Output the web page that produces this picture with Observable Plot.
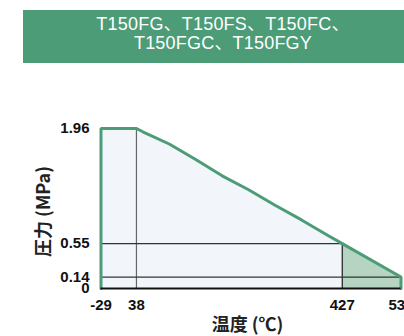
<!DOCTYPE html>
<html>
<head>
<meta charset="utf-8">
<script src="https://cdn.jsdelivr.net/npm/d3@7"></script>
<script src="https://cdn.jsdelivr.net/npm/@observablehq/plot@0.6"></script>
<style>
  html, body { margin: 0; padding: 0; background: #fff; width: 404px; height: 336px; overflow: hidden; }
  #wrap { position: relative; width: 404px; height: 336px; }
  #banner { position: absolute; left: 0; top: 0; }
  #banner text { font-family: "Liberation Sans", "Noto Sans CJK JP", sans-serif; font-size: 18px; fill: #fff; letter-spacing: 0.2px; }
  #chart { position: absolute; left: 0; top: 0; }
</style>
</head>
<body>
<div id="wrap">
  <div id="chart"></div>
  <svg id="banner" width="404" height="70">
    <rect x="23" y="10" width="400" height="53" fill="#4c9c78"></rect>
    <text x="223" y="30" text-anchor="middle">T150FG、T150FS、T150FC、</text>
    <text x="223" y="49" text-anchor="middle">T150FGC、T150FGY</text>
  </svg>
</div>
<script>
const temperatures = [-29, 38, 50, 100, 150, 200, 250, 300, 350, 400, 427, 538];
const pressures = [1.96, 1.96, 1.92, 1.77, 1.58, 1.38, 1.21, 1.02, 0.84, 0.65, 0.55, 0.14];
const xTicks = [-29, 38, 427, 538];
const yTicks = [0, 0.14, 0.55, 1.96];
const xTitle = "温度 (℃)";
const yTitle = "圧力 (MPa)";

const pts = temperatures.map((t, i) => ({t, p: pressures[i]}));
const tMin = temperatures[0], tMax = temperatures[temperatures.length - 1];
const outline = [{t: tMin, p: 0}, ...pts, {t: tMax, p: 0}];
const lowPart = pts.filter(d => d.t <= 427);
const highPart = pts.filter(d => d.t >= 427);
const green = "#4c9c78";

const chart = Plot.plot({
  width: 404,
  height: 336,
  marginLeft: 100.5,
  marginRight: 3.5,
  marginTop: 128,
  marginBottom: 48,
  style: {fontFamily: "Liberation Sans, Arial, sans-serif", fontSize: "15px", fontWeight: "bold", color: "#111", background: "transparent"},
  x: {domain: [tMin, tMax]},
  y: {domain: [0, 1.96]},
  marks: [
    Plot.areaY(lowPart, {x: "t", y: "p", fill: "#f2f6fa"}),
    Plot.areaY(highPart, {x: "t", y: "p", fill: "#b5d4c1"}),
    Plot.ruleX([38], {y1: 0, y2: 1.96, stroke: "#666", strokeWidth: 1.2}),
    Plot.ruleX([427], {y1: 0, y2: 0.55, stroke: "#222", strokeWidth: 1.2}),
    Plot.ruleY([0.55], {x1: tMin, x2: 427, stroke: "#333", strokeWidth: 1.2}),
    Plot.ruleY([0.14], {x1: tMin, x2: tMax, stroke: "#333", strokeWidth: 1.2}),
    Plot.line(outline, {x: "t", y: "p", stroke: green, strokeWidth: 3, strokeLinejoin: "miter"}),
    Plot.ruleY([0], {x1: tMin, x2: tMax, stroke: "#111", strokeWidth: 2}),
    Plot.axisX({ticks: xTicks, tickSize: 0, tickPadding: 11, label: null, tickFormat: d => String(d)}),
    Plot.axisY({ticks: yTicks, tickSize: 0, tickPadding: 11.5, label: null, tickFormat: d => String(d)}),
    Plot.text([yTitle], {frameAnchor: "left", text: d => d, rotate: -90, textAnchor: "middle", lineAnchor: "middle", dx: -57, dy: 3, fontSize: 18, fontWeight: "bold", fontFamily: "Noto Sans CJK JP", fill: "#222"}),
    Plot.text([xTitle], {frameAnchor: "bottom", text: d => d, textAnchor: "middle", lineAnchor: "middle", dx: -3.5, dy: 37, fontSize: 18, fontWeight: "bold", fontFamily: "Noto Sans CJK JP", fill: "#222"})
  ]
});
document.getElementById("chart").appendChild(chart);
</script>
</body>
</html>
